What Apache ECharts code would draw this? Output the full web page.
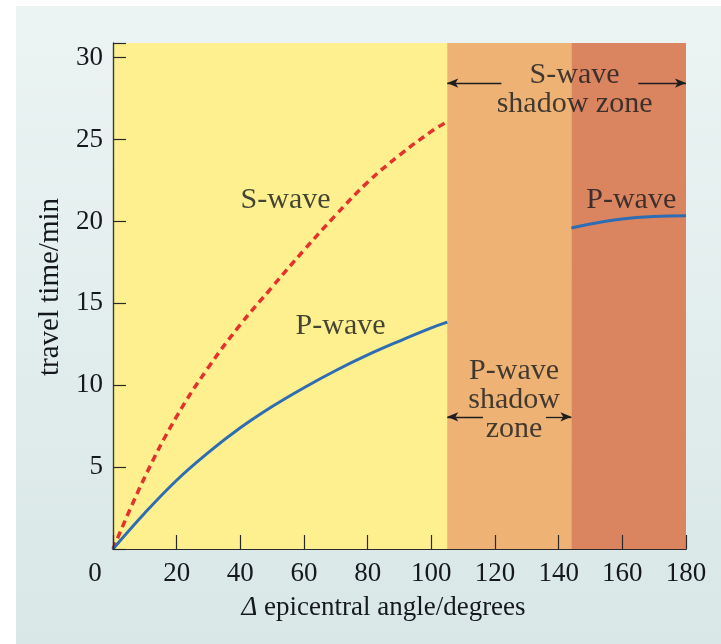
<!DOCTYPE html>
<html lang="en" style="height: 100%">
<head>
  <meta charset="utf-8">
</head>
<body style="height: 100%; margin: 0">
  <div id="container" style="width: 721px; height: 644px"></div>

  <script type="text/javascript" src="https://fastly.jsdelivr.net/npm/echarts@6/dist/echarts.min.js"></script>
  <script type="text/javascript">
// travel-time curves (angle in degrees, time in minutes)
var angles = [0, 10, 20, 30, 40, 50, 60, 70, 80, 90, 100, 105];
var pWave = [0, 2.2, 4.2, 5.9, 7.4, 8.7, 9.85, 10.9, 11.85, 12.7, 13.5, 13.85];
var sWave = [0, 4.4, 8.1, 11.1, 13.7, 16.0, 18.25, 20.4, 22.4, 24.05, 25.5, 26.1];
var farAngles = [144, 150, 160, 170, 180];
var pFar = [19.6, 19.85, 20.15, 20.3, 20.35];

// shaded zones: [from, to]
var zones = [[0, 105], [105, 144], [144, 180]];
var zoneColors = ['#fef08f', '#edb274', '#db8560'];

// text notes: [angle, time, text]
var notes = [
  [54.2, 21.3, 'S-wave'],
  [71.5, 13.6, 'P-wave'],
  [162.8, 21.3, 'P-wave'],
  [145, 28.05, 'S-wave\nshadow zone'],
  [126, 9.1, 'P-wave\nshadow\nzone']
];

// arrows: [fromAngle, toAngle, time]
var arrows = [
  [122, 105, 28.45],
  [165, 180, 28.45],
  [116.2, 105, 8.07],
  [136, 144, 8.07]
];

function pairs(xs, ys) {
  return xs.map(function (x, i) { return [x, ys[i]]; });
}

var serif = 'Liberation Serif';
var textColor = '#15191e';

var dom = document.getElementById('container');
var myChart = echarts.init(dom, null, { renderer: 'canvas' });

var option = {
  backgroundColor: '#ffffff',
  animation: false,
  graphic: [
    {
      type: 'rect',
      z: -10,
      shape: { x: 16, y: 6, width: 705, height: 638 },
      style: {
        fill: new echarts.graphic.LinearGradient(0, 0, 0, 1, [
          { offset: 0, color: '#ebf4f3' },
          { offset: 1, color: '#d9e7e7' }
        ])
      }
    }
  ],
  grid: { left: 113, right: 35, top: 43, bottom: 95 },
  xAxis: [
    {
      type: 'value',
      min: 0,
      max: 180,
      interval: 20,
      z: 10,
      name: '{i|Δ} epicentral angle/degrees',
      nameLocation: 'middle',
      nameGap: 45,
      nameTextStyle: {
        fontFamily: serif, fontSize: 27, color: textColor,
        padding: [0, 32, 0, 0],
        rich: { i: { fontFamily: serif, fontSize: 27, fontStyle: 'italic', color: textColor } }
      },
      axisLine: { show: true, lineStyle: { color: '#2a2a2a', width: 1.2 } },
      axisTick: { show: true, inside: true, length: 14, lineStyle: { color: '#2a2a2a', width: 1.2 } },
      splitLine: { show: false },
      axisLabel: {
        margin: 11,
        fontFamily: serif, fontSize: 27, color: textColor,
        formatter: function (v) { return v === 0 ? '{z|0}' : String(v); },
        rich: { z: { fontFamily: serif, fontSize: 27, color: textColor, padding: [0, 36, 0, 0] } }
      }
    },
    {
      type: 'value', position: 'top', min: 0, max: 180, z: 10,
      axisLine: { show: true, lineStyle: { color: '#2a2a2a', width: 1.2 } },
      axisTick: { show: false }, axisLabel: { show: false }, splitLine: { show: false }
    }
  ],
  yAxis: [
    {
      type: 'value',
      min: 0,
      max: 30.9,
      interval: 5,
      z: 10,
      name: 'travel time/min',
      nameLocation: 'middle',
      nameGap: 48,
      nameTextStyle: { fontFamily: serif, fontSize: 29, color: textColor, padding: [0, 0, 0, 18] },
      axisLine: { show: true, lineStyle: { color: '#2a2a2a', width: 1.2 } },
      axisTick: { show: true, inside: true, length: 13, lineStyle: { color: '#2a2a2a', width: 1.2 } },
      splitLine: { show: false },
      axisLabel: {
        margin: 10,
        fontFamily: serif, fontSize: 27, color: textColor,
        formatter: function (v) { return (v > 0 && v % 5 === 0) ? String(v) : ''; }
      }
    },
    {
      type: 'value', position: 'right', min: 0, max: 30.9, z: 10,
      axisLine: { show: true, lineStyle: { color: '#3a3a3a', width: 1.2 } },
      axisTick: { show: false }, axisLabel: { show: false }, splitLine: { show: false }
    }
  ],
  series: [
    {
      name: 'zones',
      type: 'line',
      data: [],
      silent: true,
      markArea: {
        silent: true,
        data: zones.map(function (z, i) {
          return [{ xAxis: z[0], itemStyle: { color: zoneColors[i] } }, { xAxis: z[1] }];
        })
      },
      markLine: {
        silent: true,
        symbol: ['none', 'arrow'],
        symbolSize: [7, 11],
        label: { show: false },
        lineStyle: { color: '#1e1e1e', width: 1.3, type: 'solid' },
        data: arrows.map(function (a) {
          return [{ coord: [a[0], a[2]] }, { coord: [a[1], a[2]] }];
        })
      }
    },
    {
      name: 'S-wave',
      type: 'line',
      data: pairs(angles, sWave),
      smooth: 0.4,
      showSymbol: false,
      lineStyle: { color: '#e3312b', width: 3.5, type: [7, 5] }
    },
    {
      name: 'P-wave',
      type: 'line',
      data: pairs(angles, pWave),
      smooth: 0.4,
      showSymbol: false,
      lineStyle: { color: '#2e6db4', width: 3 }
    },
    {
      name: 'P-wave far',
      type: 'line',
      data: pairs(farAngles, pFar),
      smooth: 0.4,
      showSymbol: false,
      lineStyle: { color: '#2e6db4', width: 3 }
    },
    {
      name: 'notes',
      type: 'scatter',
      symbolSize: 1,
      silent: true,
      itemStyle: { color: 'rgba(0,0,0,0)' },
      data: notes,
      label: {
        show: true,
        position: 'inside',
        formatter: function (p) { return p.data[2]; },
        fontFamily: serif,
        fontSize: 30,
        lineHeight: 29,
        color: textColor,
        align: 'center',
        verticalAlign: 'middle'
      }
    }
  ]
};

myChart.setOption(option);
window.addEventListener('resize', myChart.resize);
  </script>
</body>
</html>
